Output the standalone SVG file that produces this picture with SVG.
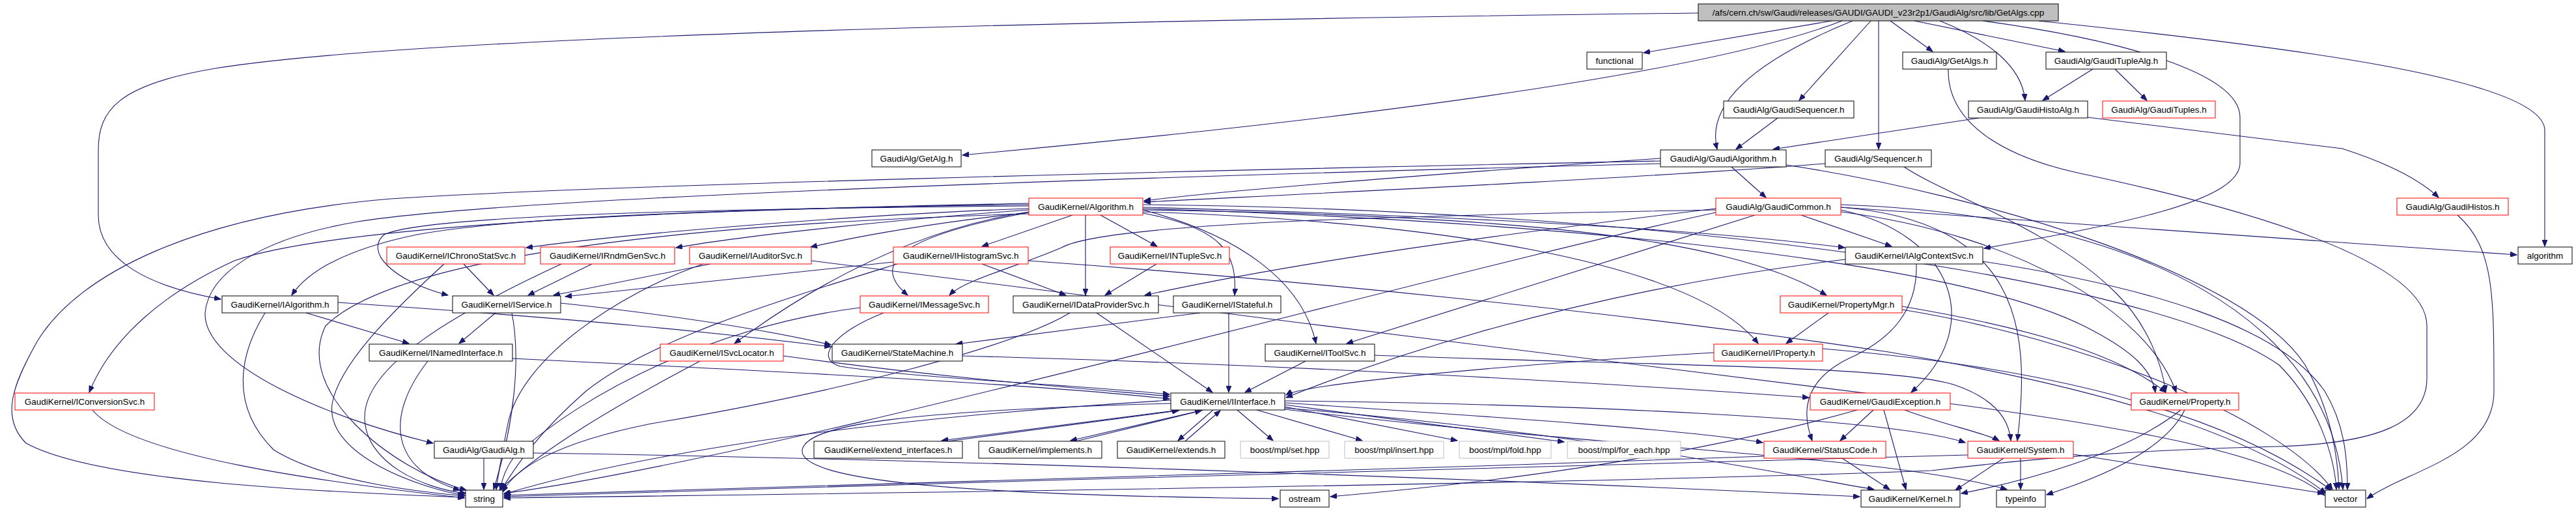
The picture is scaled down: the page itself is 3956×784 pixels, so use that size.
<svg xmlns="http://www.w3.org/2000/svg" width="3956" height="784" viewBox="0 0 3956 784">
<style>
.n rect{fill:#fff;stroke:#000;stroke-width:1}
.r rect{stroke:#f00}
.g rect{stroke:#bfbfbf}
.root rect{fill:#bfbfbf}
.n text{font-family:"Liberation Sans",Arial,sans-serif;font-size:13.5px;text-anchor:middle;fill:#000}
#edges path{fill:none;stroke:#191970;stroke-width:1.1;marker-end:url(#ah)}
</style>
<defs>
<marker id="ah" markerUnits="userSpaceOnUse" markerWidth="11" markerHeight="8" refX="10" refY="4" orient="auto"><path d="M0,0 L10,4 L0,8 z" fill="#191970" stroke="#191970"/></marker>
</defs>
<rect width="3956" height="784" fill="#fff"/>
<g id="edges">
<path d="M2608,20 C2100,26 700,45 330,105 C180,130 151,170 151,230 L151,330 C151,400 230,440 339,459"/>
<path d="M2813,32 L2524,81"/>
<path d="M2829,32 C2600,120 2000,190 1478,238"/>
<path d="M2845,32 C2690,95 2620,160 2637,229"/>
<path d="M2873,32 L2763,154"/>
<path d="M2885,32 L2885,229"/>
<path d="M2903,32 L2968,79"/>
<path d="M2940,32 L3171,79"/>
<path d="M2979,32 C3050,60 3105,100 3110,154"/>
<path d="M3045,32 C3250,60 3440,110 3440,180 L3440,250 C3440,310 3250,345 3047,381"/>
<path d="M3130,32 C3500,70 3908,120 3908,200 L3908,378"/>
<path d="M2992,106 C2990,200 3100,245 3190,265 C3450,320 3727,400 3727,500 L3727,580 C3727,650 3650,680 3500,685 C3300,690 3150,700 2966,722 C2500,740 1500,755 774,764"/>
<path d="M3214,106 L3137,154"/>
<path d="M3248,106 L3297,154"/>
<path d="M2730,181 L2666,229"/>
<path d="M3039,181 L2723,229"/>
<path d="M3206,180 L3597,228 C3650,245 3710,270 3745,303"/>
<path d="M2550,243 C2300,260 1900,290 1757,308"/>
<path d="M2803,251 C2500,275 1950,300 1757,310"/>
<path d="M2659,256 L2712,303"/>
<path d="M2550,247 C1800,262 900,285 600,305 C300,330 120,420 57,524 C20,590 0,640 40,680 C150,740 500,755 713,763"/>
<path d="M2550,251 C1800,270 800,300 550,340 C400,365 320,420 315,480 C312,560 500,640 665,680"/>
<path d="M2743,253 C3050,300 3450,420 3540,560 C3580,630 3590,700 3592,750"/>
<path d="M2924,256 C2990,300 3150,350 3250,450 C3300,500 3320,560 3326,601"/>
<path d="M1580,312 C1200,320 800,330 640,360 C520,385 470,420 448,453"/>
<path d="M1580,316 C1100,320 650,330 590,360 C560,385 600,430 688,453"/>
<path d="M1580,320 C1300,330 950,360 808,380"/>
<path d="M1580,322 C1400,335 1150,360 1038,380"/>
<path d="M1580,326 C1450,340 1330,360 1245,379"/>
<path d="M1647,330 L1508,378"/>
<path d="M1690,330 L1777,378"/>
<path d="M1667,330 L1667,453"/>
<path d="M1575,327 C1400,360 1330,400 1394,453"/>
<path d="M1755,327 C1880,350 1900,390 1896,453"/>
<path d="M1580,325 C1450,345 1300,400 1128,527"/>
<path d="M1755,322 C1900,360 2000,430 2021,527"/>
<path d="M1580,314 C1000,320 500,350 360,400 C250,450 170,520 137,602"/>
<path d="M1755,318 C2200,330 2600,350 2833,380"/>
<path d="M1755,322 C2300,330 2650,360 2805,453"/>
<path d="M1755,325 C2200,340 2600,400 2700,527"/>
<path d="M1755,320 C2400,340 3000,400 3200,500 C3280,540 3305,570 3310,602"/>
<path d="M1580,328 C1000,345 600,400 500,500 C450,600 600,720 716,752"/>
<path d="M1755,314 C2500,320 3300,420 3500,560 C3560,620 3585,700 3588,751"/>
<path d="M2766,330 L2905,378"/>
<path d="M2695,330 L2068,527"/>
<path d="M2635,320 C2300,360 2000,400 1758,453"/>
<path d="M2635,322 C2200,330 1700,340 1630,380 C1560,410 1480,430 1458,453"/>
<path d="M2827,322 C3000,360 3050,500 2935,602"/>
<path d="M2827,318 C3100,340 3120,500 3098,676"/>
<path d="M2827,325 C3100,360 3300,480 3342,602"/>
<path d="M2827,314 C3300,330 3580,500 3598,751"/>
<path d="M2827,318 L3865,391"/>
<path d="M2635,326 C2200,420 1200,700 774,757"/>
<path d="M2943,405 C2945,480 2900,520 2850,545 C2780,575 2762,620 2783,676"/>
<path d="M3045,401 C3300,440 3500,500 3570,600 C3600,650 3605,700 3605,751"/>
<path d="M2834,398 C2400,450 2100,560 1975,610"/>
<path d="M712,405 L758,453"/>
<path d="M682,405 C600,480 520,560 510,620 C500,700 650,750 714,760"/>
<path d="M909,405 L811,453"/>
<path d="M862,405 C700,480 560,560 560,640 C560,710 650,750 716,757"/>
<path d="M1091,405 L850,453"/>
<path d="M1080,405 C950,450 800,550 780,650 C770,700 765,730 762,751"/>
<path d="M1246,400 C1800,470 2500,560 3000,620 C3300,660 3500,700 3570,760"/>
<path d="M1372,402 L868,455"/>
<path d="M1508,405 L1637,453"/>
<path d="M1378,405 C1200,460 1000,520 900,600 C820,670 790,720 770,751"/>
<path d="M1579,400 C2000,430 2500,480 2900,540 C3200,590 3450,660 3572,757"/>
<path d="M1776,405 L1697,453"/>
<path d="M470,480 L628,527"/>
<path d="M407,480 C370,540 350,620 420,690 C500,740 650,755 713,761"/>
<path d="M519,464 C900,490 1100,510 1276,532"/>
<path d="M761,480 L705,527"/>
<path d="M786,480 C800,550 790,650 758,751"/>
<path d="M861,465 C1000,480 1150,500 1276,529"/>
<path d="M787,550 C1200,570 1600,590 1796,612"/>
<path d="M657,554 C590,640 600,720 706,752"/>
<path d="M142,629 C200,700 500,740 713,764"/>
<path d="M743,703 L743,751"/>
<path d="M819,695 C1500,705 2400,740 2856,762"/>
<path d="M1203,546 C1450,580 1650,595 1796,608"/>
<path d="M1075,554 C950,620 830,690 767,752"/>
<path d="M1478,546 C2000,560 2500,590 2778,610"/>
<path d="M1684,480 L1862,602"/>
<path d="M1643,480 C1560,530 1300,600 1000,650 C850,680 790,720 772,755"/>
<path d="M1887,480 L1887,602"/>
<path d="M1843,480 L1468,528"/>
<path d="M1321,472 C1100,500 900,600 790,700 C775,720 770,740 768,751"/>
<path d="M1357,480 C1280,510 1250,550 1290,562 C1400,580 1650,590 1796,605"/>
<path d="M2005,554 L1912,602"/>
<path d="M2111,545 C2500,560 2900,560 3000,590 C3060,610 3085,640 3088,676"/>
<path d="M2632,541 C2300,560 2000,590 1975,606"/>
<path d="M2799,535 C3100,560 3400,620 3580,752"/>
<path d="M2808,480 L2743,527"/>
<path d="M2921,470 C3100,500 3250,540 3326,602"/>
<path d="M2921,475 C3200,520 3500,640 3582,751"/>
<path d="M2877,629 L2826,676"/>
<path d="M2893,629 L2927,751"/>
<path d="M2925,629 C2980,650 3050,665 3070,676"/>
<path d="M2852,629 C2600,700 2300,740 2043,762"/>
<path d="M2829,703 L2902,751"/>
<path d="M2709,700 C2000,725 1200,750 774,760"/>
<path d="M3077,703 L3003,752"/>
<path d="M3103,703 L3103,751"/>
<path d="M3184,697 L3569,757"/>
<path d="M3022,698 C2500,710 1500,740 774,762"/>
<path d="M3349,629 C3260,700 3100,740 3012,757"/>
<path d="M3355,629 C3320,700 3200,740 3143,759"/>
<path d="M3774,330 C3830,380 3830,450 3830,600 C3830,700 3700,720 3635,765"/>
<path d="M1812,629 L1446,676"/>
<path d="M1455,677 L1810,630"/>
<path d="M1848,629 L1644,676"/>
<path d="M1652,677 L1845,630"/>
<path d="M1863,629 L1809,676"/>
<path d="M1820,677 L1874,630"/>
<path d="M1900,629 L1955,676"/>
<path d="M1930,629 L2092,676"/>
<path d="M1973,624 L2238,676"/>
<path d="M1973,621 L2402,678"/>
<path d="M1973,618 C2300,640 2600,660 2707,679"/>
<path d="M1973,626 C2400,660 2700,720 2878,751"/>
<path d="M1973,615 C2400,620 2900,640 3018,679"/>
<path d="M1973,628 C2500,690 2900,700 3082,751"/>
<path d="M1798,619 C1400,630 1240,650 1232,690 C1225,740 1500,760 1963,765"/>
<path d="M1798,614 C1200,650 900,720 774,758"/>
</g>
<g id="n_root" class="n root"><rect x="2608" y="6" width="553" height="26"/><text x="2884.5" y="24">/afs/cern.ch/sw/Gaudi/releases/GAUDI/GAUDI_v23r2p1/GaudiAlg/src/lib/GetAlgs.cpp</text></g>
<g id="n_functional" class="n"><rect x="2437" y="80" width="85" height="26"/><text x="2479.5" y="98">functional</text></g>
<g id="n_getalgs" class="n"><rect x="2922" y="80" width="144" height="26"/><text x="2994" y="98">GaudiAlg/GetAlgs.h</text></g>
<g id="n_tuplealg" class="n"><rect x="3142" y="80" width="185" height="26"/><text x="3234.5" y="98">GaudiAlg/GaudiTupleAlg.h</text></g>
<g id="n_gseq" class="n"><rect x="2647" y="155" width="200" height="26"/><text x="2747" y="173">GaudiAlg/GaudiSequencer.h</text></g>
<g id="n_histoalg" class="n"><rect x="3023" y="155" width="183" height="26"/><text x="3114.5" y="173">GaudiAlg/GaudiHistoAlg.h</text></g>
<g id="n_tuples" class="n r"><rect x="3229" y="155" width="173" height="26"/><text x="3315.5" y="173">GaudiAlg/GaudiTuples.h</text></g>
<g id="n_getalg" class="n"><rect x="1339" y="230" width="137" height="26"/><text x="1407.5" y="248">GaudiAlg/GetAlg.h</text></g>
<g id="n_galgo" class="n"><rect x="2550" y="230" width="193" height="26"/><text x="2646.5" y="248">GaudiAlg/GaudiAlgorithm.h</text></g>
<g id="n_seq" class="n"><rect x="2803" y="230" width="163" height="26"/><text x="2884.5" y="248">GaudiAlg/Sequencer.h</text></g>
<g id="n_alg" class="n r"><rect x="1580" y="304" width="175" height="26"/><text x="1667.5" y="322">GaudiKernel/Algorithm.h</text></g>
<g id="n_common" class="n r"><rect x="2635" y="304" width="192" height="26"/><text x="2731" y="322">GaudiAlg/GaudiCommon.h</text></g>
<g id="n_histos" class="n r"><rect x="3681" y="304" width="171" height="26"/><text x="3766.5" y="322">GaudiAlg/GaudiHistos.h</text></g>
<g id="n_chrono" class="n r"><rect x="594" y="379" width="212" height="26"/><text x="700" y="397">GaudiKernel/IChronoStatSvc.h</text></g>
<g id="n_rndm" class="n r"><rect x="830" y="379" width="206" height="26"/><text x="933" y="397">GaudiKernel/IRndmGenSvc.h</text></g>
<g id="n_auditor" class="n r"><rect x="1059" y="379" width="187" height="26"/><text x="1152.5" y="397">GaudiKernel/IAuditorSvc.h</text></g>
<g id="n_histsvc" class="n r"><rect x="1372" y="379" width="207" height="26"/><text x="1475.5" y="397">GaudiKernel/IHistogramSvc.h</text></g>
<g id="n_ntuple" class="n r"><rect x="1705" y="379" width="183" height="26"/><text x="1796.5" y="397">GaudiKernel/INTupleSvc.h</text></g>
<g id="n_algctx" class="n"><rect x="2834" y="379" width="211" height="26"/><text x="2939.5" y="397">GaudiKernel/IAlgContextSvc.h</text></g>
<g id="n_algorithm" class="n"><rect x="3867" y="379" width="83" height="26"/><text x="3908.5" y="397">algorithm</text></g>
<g id="n_ialg" class="n"><rect x="341" y="454" width="178" height="26"/><text x="430" y="472">GaudiKernel/IAlgorithm.h</text></g>
<g id="n_isvc" class="n"><rect x="695" y="454" width="166" height="26"/><text x="778" y="472">GaudiKernel/IService.h</text></g>
<g id="n_msg" class="n r"><rect x="1321" y="454" width="197" height="26"/><text x="1419.5" y="472">GaudiKernel/IMessageSvc.h</text></g>
<g id="n_dataprov" class="n"><rect x="1556" y="454" width="223" height="26"/><text x="1667.5" y="472">GaudiKernel/IDataProviderSvc.h</text></g>
<g id="n_stateful" class="n"><rect x="1802" y="454" width="165" height="26"/><text x="1884.5" y="472">GaudiKernel/IStateful.h</text></g>
<g id="n_pmgr" class="n r"><rect x="2734" y="454" width="187" height="26"/><text x="2827.5" y="472">GaudiKernel/PropertyMgr.h</text></g>
<g id="n_named" class="n"><rect x="567" y="528" width="220" height="26"/><text x="677" y="546">GaudiKernel/INamedInterface.h</text></g>
<g id="n_svcloc" class="n r"><rect x="1014" y="528" width="189" height="26"/><text x="1108.5" y="546">GaudiKernel/ISvcLocator.h</text></g>
<g id="n_sm" class="n"><rect x="1278" y="528" width="200" height="26"/><text x="1378" y="546">GaudiKernel/StateMachine.h</text></g>
<g id="n_tool" class="n"><rect x="1943" y="528" width="168" height="26"/><text x="2027" y="546">GaudiKernel/IToolSvc.h</text></g>
<g id="n_iprop" class="n r"><rect x="2632" y="528" width="167" height="26"/><text x="2715.5" y="546">GaudiKernel/IProperty.h</text></g>
<g id="n_conv" class="n r"><rect x="23" y="603" width="214" height="26"/><text x="130" y="621">GaudiKernel/IConversionSvc.h</text></g>
<g id="n_iint" class="n"><rect x="1798" y="603" width="175" height="26"/><text x="1885.5" y="621">GaudiKernel/IInterface.h</text></g>
<g id="n_gexc" class="n r"><rect x="2780" y="603" width="215" height="26"/><text x="2887.5" y="621">GaudiKernel/GaudiException.h</text></g>
<g id="n_prop" class="n r"><rect x="3273" y="603" width="165" height="26"/><text x="3355.5" y="621">GaudiKernel/Property.h</text></g>
<g id="n_gaudialg" class="n"><rect x="667" y="677" width="152" height="26"/><text x="743" y="695">GaudiAlg/GaudiAlg.h</text></g>
<g id="n_exti" class="n"><rect x="1250" y="677" width="228" height="26"/><text x="1364" y="695">GaudiKernel/extend_interfaces.h</text></g>
<g id="n_impl" class="n"><rect x="1503" y="677" width="189" height="26"/><text x="1597.5" y="695">GaudiKernel/implements.h</text></g>
<g id="n_ext" class="n"><rect x="1716" y="677" width="165" height="26"/><text x="1798.5" y="695">GaudiKernel/extends.h</text></g>
<g id="n_set" class="n g"><rect x="1905" y="677" width="136" height="26"/><text x="1973" y="695">boost/mpl/set.hpp</text></g>
<g id="n_insert" class="n g"><rect x="2065" y="677" width="152" height="26"/><text x="2141" y="695">boost/mpl/insert.hpp</text></g>
<g id="n_fold" class="n g"><rect x="2241" y="677" width="141" height="26"/><text x="2311.5" y="695">boost/mpl/fold.hpp</text></g>
<g id="n_foreach" class="n g"><rect x="2407" y="677" width="174" height="26"/><text x="2494" y="695">boost/mpl/for_each.hpp</text></g>
<g id="n_sc" class="n r"><rect x="2709" y="677" width="187" height="26"/><text x="2802.5" y="695">GaudiKernel/StatusCode.h</text></g>
<g id="n_sys" class="n r"><rect x="3022" y="677" width="162" height="26"/><text x="3103" y="695">GaudiKernel/System.h</text></g>
<g id="n_string" class="n"><rect x="715" y="752" width="57" height="26"/><text x="743.5" y="770">string</text></g>
<g id="n_ostream" class="n"><rect x="1966" y="752" width="75" height="26"/><text x="2003.5" y="770">ostream</text></g>
<g id="n_kernel" class="n"><rect x="2858" y="752" width="152" height="26"/><text x="2934" y="770">GaudiKernel/Kernel.h</text></g>
<g id="n_typeinfo" class="n"><rect x="3066" y="752" width="75" height="26"/><text x="3103.5" y="770">typeinfo</text></g>
<g id="n_vector" class="n"><rect x="3571" y="752" width="62" height="26"/><text x="3602" y="770">vector</text></g>
</svg>
